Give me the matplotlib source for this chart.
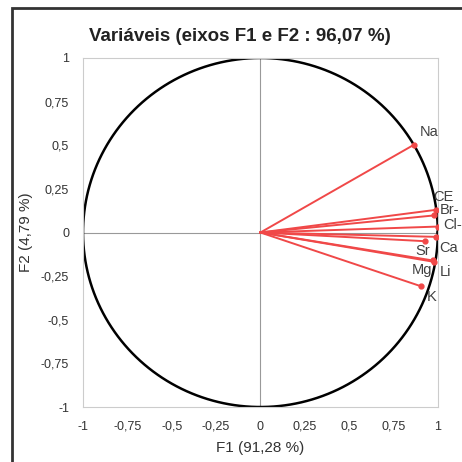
import numpy as np
import matplotlib.pyplot as plt
from matplotlib.patches import Rectangle

# correlation circle, variables on F1 / F2
variables = ['Na', 'CE', 'Br-', 'Cl-', 'Ca', 'Sr', 'Mg', 'Li', 'K']
f1 = [0.864, 0.990, 0.980, 0.999, 0.990, 0.930, 0.970, 0.978, 0.905]
f2 = [0.502, 0.130, 0.098, 0.034, -0.025, -0.050, -0.160, -0.168, -0.308]
# label offsets in points (dx, dy)
offsets = [(4, 9), (-2, 9), (4, 4), (4, 1), (2, -8), (-7, -7), (-15, -7), (4, -7), (4, -8)]

ticks = [-1, -0.75, -0.5, -0.25, 0, 0.25, 0.5, 0.75, 1]
tick_labels = ['-1', '-0,75', '-0,5', '-0,25', '0', '0,25', '0,5', '0,75', '1']

plt.rcParams['font.family'] = ['Liberation Sans', 'DejaVu Sans']

fig = plt.figure(figsize=(4.62, 4.62), dpi=100)
ax = fig.add_axes([0.1797, 0.119, 0.768, 0.7555])

# outer frame
fig.patches.append(Rectangle((12 / 462, -0.05), 1.1, 1 - 8 / 462 + 0.05, transform=fig.transFigure,
                             fill=False, edgecolor='#333333', linewidth=2))

theta = np.linspace(0, 2 * np.pi, 400)
ax.plot(np.cos(theta), np.sin(theta), color='black', linewidth=1.8, zorder=2)
ax.axhline(0, color='#999999', linewidth=0.8, zorder=1)
ax.axvline(0, color='#999999', linewidth=0.8, zorder=1)

red = '#f04848'
for name, x, y, (dx, dy) in zip(variables, f1, f2, offsets):
    ax.plot([0, x], [0, y], color=red, linewidth=1.4, zorder=3)
    ax.plot(x, y, 'o', color=red, markersize=3.5, zorder=4)
    ax.annotate(name, (x, y), xytext=(dx, dy), textcoords='offset points',
                fontsize=10.5, color='#404040', ha='left', va='center')

ax.set_xlim(-1, 1)
ax.set_ylim(-1, 1)
ax.set_xticks(ticks)
ax.set_xticklabels(tick_labels)
ax.set_yticks(ticks)
ax.set_yticklabels(tick_labels)
ax.tick_params(length=0, labelsize=9, colors='#333333', pad=10)
for s in ax.spines.values():
    s.set_color('#cccccc')
    s.set_linewidth(0.8)

ax.set_xlabel('F1 (91,28 %)', fontsize=11, color='#333333', labelpad=6)
ax.set_ylabel('F2 (4,79 %)', fontsize=11, color='#333333', labelpad=6)
fig.text(0.52, 0.922, 'Variáveis (eixos F1 e F2 : 96,07 %)', fontsize=13.5,
         fontweight='bold', ha='center', va='center', color='#222222')

fig.savefig('out.png', dpi=100)
